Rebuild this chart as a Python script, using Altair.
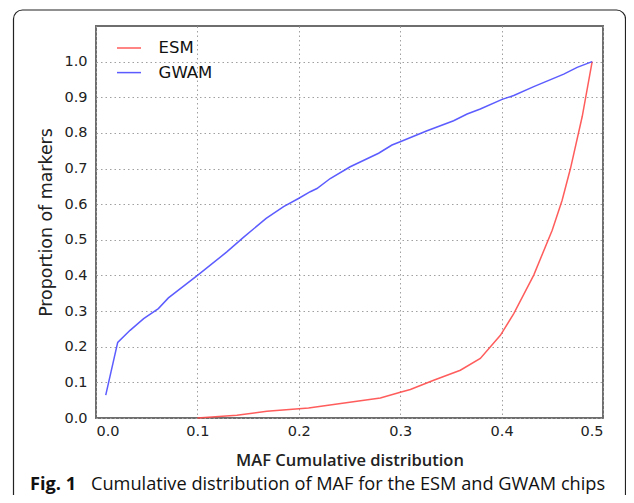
import altair as alt
import pandas as pd

# ---- data ----
gwam_x = [0.0096, 0.0214, 0.0336, 0.047, 0.0615, 0.0714, 0.1004, 0.129, 0.1454, 0.1678,
          0.185, 0.1997, 0.2113, 0.2179, 0.231, 0.2507, 0.2787, 0.2919, 0.300, 0.3265,
          0.3527, 0.366, 0.379, 0.4005, 0.412, 0.4317, 0.4613, 0.4745, 0.4893]
gwam_y = [0.064, 0.212, 0.246, 0.279, 0.307, 0.337, 0.401, 0.466, 0.507, 0.560,
          0.593, 0.616, 0.635, 0.644, 0.672, 0.705, 0.743, 0.766, 0.775, 0.806,
          0.834, 0.853, 0.867, 0.894, 0.905, 0.930, 0.965, 0.984, 1.0]
esm_x = [0.1, 0.1389, 0.1685, 0.2096, 0.2343, 0.2573, 0.2804, 0.3001, 0.31, 0.333,
         0.3593, 0.379, 0.3988, 0.412, 0.4317, 0.4499, 0.4597, 0.4679, 0.4795, 0.4893]
esm_y = [0.0, 0.008, 0.019, 0.028, 0.038, 0.047, 0.056, 0.072, 0.080, 0.106,
         0.134, 0.167, 0.232, 0.293, 0.401, 0.527, 0.611, 0.700, 0.846, 1.0]
series = ["ESM", "GWAM"]
colors = ["#ff4a4a", "#4a4aff"]
x_ticks = [0.0, 0.1, 0.2, 0.3, 0.4, 0.5]
y_ticks = [0.0, 0.1, 0.2, 0.3, 0.4, 0.5, 0.6, 0.7, 0.8, 0.9, 1.0]
x_title = "MAF Cumulative distribution"
y_title = "Proportion of markers"
caption_bold = "Fig. 1"
caption_text = "Cumulative distribution of MAF for the ESM and GWAM chips"

df = pd.DataFrame({
    "maf": esm_x + gwam_x,
    "prop": esm_y + gwam_y,
    "chip": ["ESM"] * len(esm_x) + ["GWAM"] * len(gwam_x),
})

W, H = 507, 392

lines = alt.Chart(df).mark_line(strokeWidth=1.5, opacity=0.9, clip=False).encode(
    x=alt.X("maf:Q", scale=alt.Scale(domain=[0, 0.5], nice=False, zero=False),
            axis=alt.Axis(values=x_ticks, format=".1f", title=x_title,
                          titleFont="Open Sans", titleFontWeight=600, titleFontSize=16.5,
                          titleColor="#222", titleBaseline="alphabetic", titleY=47,
                          titleX=W / 2)),
    y=alt.Y("prop:Q", scale=alt.Scale(domain=[0, 1.1], nice=False, zero=False),
            axis=alt.Axis(values=y_ticks, format=".1f", title=y_title,
                          titleFont="DejaVu Sans", titleFontWeight="normal",
                          titleFontSize=17.4, titleColor="#222",
                          titleBaseline="middle", titleX=-50, titleY=H / 2, titleAngle=-90)),
    color=alt.Color("chip:N", scale=alt.Scale(domain=series, range=colors),
                    legend=alt.Legend(title=None, orient="none", legendX=20, legendY=9,
                                      symbolType="stroke", symbolSize=576,
                                      symbolStrokeWidth=1.5, padding=0, rowPadding=2.6,
                                      labelOffset=16.6, labelFont="DejaVu Sans",
                                      labelFontSize=16.5, labelColor="#111")),
)

one = pd.DataFrame({"a": [0]})

frame = alt.Chart(one).mark_rect(filled=False, stroke="#222", strokeWidth=1.2,
                                 cornerRadius=9, clip=False).encode(
    x=alt.value(-82.5), x2=alt.value(529.5), y=alt.value(-16), y2=alt.value(480))

cap1 = alt.Chart(one).mark_text(text=caption_bold, font="Open Sans", fontWeight="bold",
                                fontSize=18.2, align="left", baseline="alphabetic",
                                color="#111", clip=False).encode(
    x=alt.value(-66), y=alt.value(464))
cap2 = alt.Chart(one).mark_text(text=caption_text, font="Open Sans", fontWeight="normal",
                                fontSize=18.2, align="left", baseline="alphabetic",
                                color="#111", clip=False).encode(
    x=alt.value(-5), y=alt.value(464))

chart = alt.layer(lines, frame, cap1, cap2).properties(
    width=W, height=H,
    autosize=alt.AutoSizeParams(type="none"),
    padding={"left": 88, "top": 18, "right": 23, "bottom": 77},
).configure_view(
    stroke="#6e6e6e", strokeWidth=2,
).configure_axis(
    domain=False, ticks=False, grid=True, gridColor="#a0a0a0", gridDash=[1.5, 3],
    gridWidth=1, labelFont="DejaVu Sans", labelFontSize=14.5, labelColor="#222",
).configure_axisX(labelPadding=6).configure_axisY(labelPadding=9)

chart.save("out.html", embed_options={"renderer": "svg", "actions": False})
